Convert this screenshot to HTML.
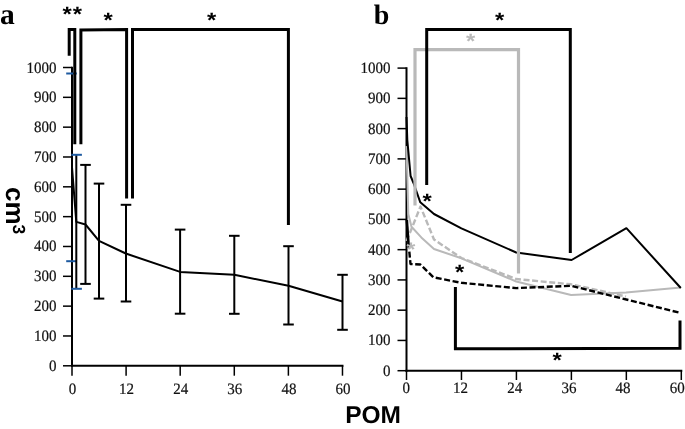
<!DOCTYPE html>
<html><head><meta charset="utf-8"><style>
html,body{margin:0;padding:0;background:#fff;}
svg{display:block;will-change:transform;}
text{text-rendering:geometricPrecision;}
</style></head><body>
<svg width="685" height="429" viewBox="0 0 685 429">
<rect width="685" height="429" fill="#fff"/>
<g stroke="#000" stroke-width="2.0" fill="none">
<line x1="72.0" y1="66.75" x2="72.0" y2="366.8"/>
<line x1="71.0" y1="365.8" x2="343.48" y2="365.8"/>
</g>
<g stroke="#000" stroke-width="1.5">
<line x1="63" y1="365.80" x2="72.0" y2="365.80"/>
<line x1="63" y1="335.97" x2="72.0" y2="335.97"/>
<line x1="63" y1="306.14" x2="72.0" y2="306.14"/>
<line x1="63" y1="276.31" x2="72.0" y2="276.31"/>
<line x1="63" y1="246.48" x2="72.0" y2="246.48"/>
<line x1="63" y1="216.65" x2="72.0" y2="216.65"/>
<line x1="63" y1="186.82" x2="72.0" y2="186.82"/>
<line x1="63" y1="156.99" x2="72.0" y2="156.99"/>
<line x1="63" y1="127.16" x2="72.0" y2="127.16"/>
<line x1="63" y1="97.33" x2="72.0" y2="97.33"/>
<line x1="63" y1="67.50" x2="72.0" y2="67.50"/>
<line x1="72.00" y1="365.8" x2="72.00" y2="375.7"/>
<line x1="126.10" y1="365.8" x2="126.10" y2="375.7"/>
<line x1="180.19" y1="365.8" x2="180.19" y2="375.7"/>
<line x1="234.29" y1="365.8" x2="234.29" y2="375.7"/>
<line x1="288.38" y1="365.8" x2="288.38" y2="375.7"/>
<line x1="342.48" y1="365.8" x2="342.48" y2="375.7"/>
</g>
<g style="font-family:'Liberation Serif',serif;font-size:15px" fill="#111" stroke="#111" stroke-width="0.2" text-anchor="end">
<text transform="translate(56.60,370.80) scale(1,1.06)">0</text>
<text transform="translate(56.60,340.97) scale(1,1.06)">100</text>
<text transform="translate(56.60,311.14) scale(1,1.06)">200</text>
<text transform="translate(56.60,281.31) scale(1,1.06)">300</text>
<text transform="translate(56.60,251.48) scale(1,1.06)">400</text>
<text transform="translate(56.60,221.65) scale(1,1.06)">500</text>
<text transform="translate(56.60,191.82) scale(1,1.06)">600</text>
<text transform="translate(56.60,161.99) scale(1,1.06)">700</text>
<text transform="translate(56.60,132.16) scale(1,1.06)">800</text>
<text transform="translate(56.60,102.33) scale(1,1.06)">900</text>
<text transform="translate(56.60,72.50) scale(1,1.06)">1000</text>
</g>
<g style="font-family:'Liberation Serif',serif;font-size:15px" fill="#111" stroke="#111" stroke-width="0.2" text-anchor="middle">
<text transform="translate(72.50,393.60) scale(1,1.06)">0</text>
<text transform="translate(126.60,393.60) scale(1,1.06)">12</text>
<text transform="translate(180.69,393.60) scale(1,1.06)">24</text>
<text transform="translate(234.79,393.60) scale(1,1.06)">36</text>
<text transform="translate(288.88,393.60) scale(1,1.06)">48</text>
<text transform="translate(342.98,393.60) scale(1,1.06)">60</text>
</g>
<g stroke="#000" stroke-width="2.0" fill="none">
<line x1="406.5" y1="67.35000000000002" x2="406.5" y2="371.7"/>
<line x1="405.5" y1="370.7" x2="682.3" y2="370.7"/>
</g>
<g stroke="#000" stroke-width="1.5">
<line x1="397.5" y1="370.70" x2="406.5" y2="370.70"/>
<line x1="397.5" y1="340.44" x2="406.5" y2="340.44"/>
<line x1="397.5" y1="310.18" x2="406.5" y2="310.18"/>
<line x1="397.5" y1="279.92" x2="406.5" y2="279.92"/>
<line x1="397.5" y1="249.66" x2="406.5" y2="249.66"/>
<line x1="397.5" y1="219.40" x2="406.5" y2="219.40"/>
<line x1="397.5" y1="189.14" x2="406.5" y2="189.14"/>
<line x1="397.5" y1="158.88" x2="406.5" y2="158.88"/>
<line x1="397.5" y1="128.62" x2="406.5" y2="128.62"/>
<line x1="397.5" y1="98.36" x2="406.5" y2="98.36"/>
<line x1="397.5" y1="68.10" x2="406.5" y2="68.10"/>
<line x1="406.50" y1="370.7" x2="406.50" y2="380"/>
<line x1="461.46" y1="370.7" x2="461.46" y2="380"/>
<line x1="516.42" y1="370.7" x2="516.42" y2="380"/>
<line x1="571.38" y1="370.7" x2="571.38" y2="380"/>
<line x1="626.34" y1="370.7" x2="626.34" y2="380"/>
<line x1="681.30" y1="370.7" x2="681.30" y2="380"/>
</g>
<g style="font-family:'Liberation Serif',serif;font-size:15px" fill="#111" stroke="#111" stroke-width="0.2" text-anchor="end">
<text transform="translate(390.40,375.70) scale(1,1.06)">0</text>
<text transform="translate(390.40,345.44) scale(1,1.06)">100</text>
<text transform="translate(390.40,315.18) scale(1,1.06)">200</text>
<text transform="translate(390.40,284.92) scale(1,1.06)">300</text>
<text transform="translate(390.40,254.66) scale(1,1.06)">400</text>
<text transform="translate(390.40,224.40) scale(1,1.06)">500</text>
<text transform="translate(390.40,194.14) scale(1,1.06)">600</text>
<text transform="translate(390.40,163.88) scale(1,1.06)">700</text>
<text transform="translate(390.40,133.62) scale(1,1.06)">800</text>
<text transform="translate(390.40,103.36) scale(1,1.06)">900</text>
<text transform="translate(390.40,73.10) scale(1,1.06)">1000</text>
</g>
<g style="font-family:'Liberation Serif',serif;font-size:15px" fill="#111" stroke="#111" stroke-width="0.2" text-anchor="middle">
<text transform="translate(406.35,393.40) scale(1,1.06)">0</text>
<text transform="translate(460.53,393.40) scale(1,1.06)">12</text>
<text transform="translate(514.71,393.40) scale(1,1.06)">24</text>
<text transform="translate(568.89,393.40) scale(1,1.06)">36</text>
<text transform="translate(623.07,393.40) scale(1,1.06)">48</text>
<text transform="translate(677.25,393.40) scale(1,1.06)">60</text>
</g>
<g stroke-width="2" fill="none">
<line x1="72.0" y1="73.5" x2="72.0" y2="261.2" stroke="#000"/>
<line x1="66.2" y1="73.5" x2="76.8" y2="73.5" stroke="#1e5aa0"/>
<line x1="66.2" y1="261.2" x2="76.8" y2="261.2" stroke="#1e5aa0"/>
<line x1="76.3" y1="154.8" x2="76.3" y2="288.8" stroke="#000"/>
<line x1="71.3" y1="154.8" x2="81.89999999999999" y2="154.8" stroke="#1e5aa0"/>
<line x1="71.3" y1="288.8" x2="81.89999999999999" y2="288.8" stroke="#1e5aa0"/>
<line x1="85.5" y1="164.9" x2="85.5" y2="283.9" stroke="#000"/>
<line x1="80.2" y1="164.9" x2="90.8" y2="164.9" stroke="#000"/>
<line x1="80.2" y1="283.9" x2="90.8" y2="283.9" stroke="#000"/>
<line x1="99.0" y1="183.6" x2="99.0" y2="298.6" stroke="#000"/>
<line x1="93.7" y1="183.6" x2="104.3" y2="183.6" stroke="#000"/>
<line x1="93.7" y1="298.6" x2="104.3" y2="298.6" stroke="#000"/>
<line x1="126.0" y1="204.8" x2="126.0" y2="301.5" stroke="#000"/>
<line x1="120.7" y1="204.8" x2="131.3" y2="204.8" stroke="#000"/>
<line x1="120.7" y1="301.5" x2="131.3" y2="301.5" stroke="#000"/>
<line x1="180.1" y1="229.6" x2="180.1" y2="313.7" stroke="#000"/>
<line x1="174.79999999999998" y1="229.6" x2="185.4" y2="229.6" stroke="#000"/>
<line x1="174.79999999999998" y1="313.7" x2="185.4" y2="313.7" stroke="#000"/>
<line x1="234.3" y1="235.8" x2="234.3" y2="313.8" stroke="#000"/>
<line x1="229.0" y1="235.8" x2="239.60000000000002" y2="235.8" stroke="#000"/>
<line x1="229.0" y1="313.8" x2="239.60000000000002" y2="313.8" stroke="#000"/>
<line x1="288.5" y1="246.2" x2="288.5" y2="324.5" stroke="#000"/>
<line x1="283.2" y1="246.2" x2="293.8" y2="246.2" stroke="#000"/>
<line x1="283.2" y1="324.5" x2="293.8" y2="324.5" stroke="#000"/>
<line x1="342.5" y1="274.8" x2="342.5" y2="329.8" stroke="#000"/>
<line x1="337.2" y1="274.8" x2="347.8" y2="274.8" stroke="#000"/>
<line x1="337.2" y1="329.8" x2="347.8" y2="329.8" stroke="#000"/>
</g>
<polyline fill="none" stroke="#000" stroke-width="2" stroke-linejoin="round" points="72,167.3 76.3,221.9 85.5,224.5 99,240.9 125.8,253.5 180.1,271.9 234.3,274.8 288.5,285.8 342.5,301.5"/>
<g stroke="#000" stroke-width="3" fill="none" stroke-linejoin="miter" stroke-linecap="butt">
<polyline points="69.2,55.8 69.2,29.4 74.8,29.4 74.8,144.3"/>
<polyline points="80.9,144.3 80.9,30.0 126.6,29.6 126.6,198.6"/>
<polyline points="132.5,198.6 132.5,29.6 288.4,29.4 288.4,225"/>
</g>
<polyline fill="none" stroke="#b9b9b9" stroke-width="2" stroke-linejoin="round" points="406.5,146.0 408.3,214.0 411.5,226.8 421.3,237.4 434.0,249.0 461.4,258.3 516.2,281.5 571.1,295.0 626.0,292.5 680.8,287.4"/>
<polyline fill="none" stroke="#b9b9b9" stroke-width="2.4" stroke-linejoin="round" stroke-dasharray="6 2.6" points="406.5,241.0 411.1,230.0 420.5,206.5 434.0,239.5 461.4,258.0 516.2,279.0 571.1,284.3 626.0,296.5"/>
<polyline fill="none" stroke="#000" stroke-width="2.4" stroke-linejoin="round" stroke-dasharray="6 2.6" points="408.5,243.0 410.5,264.0 420.4,264.5 433.4,277.3 461.4,282.8 516.2,288.1 571.1,285.8 680.8,313.0"/>
<polyline fill="none" stroke="#000" stroke-width="2.6" stroke-linejoin="round" points="406.8,220.0 408.5,243.5"/>
<polyline fill="none" stroke="#000" stroke-width="2" stroke-linejoin="round" points="406.5,117.0 407.3,140.0 410.6,176.0 413.5,183.0 420.3,202.3 434.0,214.0 461.4,228.4 516.2,252.5 571.6,260.0 626.4,228.2 680.8,288.0"/>
<polyline stroke="#b9b9b9" stroke-width="3.2" fill="none" points="415,205.5 415,49.7 518.5,49.7 518.5,273.5"/>
<g stroke="#000" stroke-width="3" fill="none">
<polyline points="426.7,185 426.7,29.6 570.3,29.4 570.3,253.0"/>
<polyline points="455.4,287.1 455.4,348.8 680,348.3 680,320.5"/>
</g>
<text transform="translate(67.10,21.13) scale(1.08,0.94)" text-anchor="middle" style="font-family:'Liberation Sans',sans-serif;font-weight:bold;font-size:22px" fill="#000">*</text>
<text transform="translate(77.40,21.13) scale(1.08,0.94)" text-anchor="middle" style="font-family:'Liberation Sans',sans-serif;font-weight:bold;font-size:22px" fill="#000">*</text>
<text transform="translate(108.05,26.73) scale(1.08,0.94)" text-anchor="middle" style="font-family:'Liberation Sans',sans-serif;font-weight:bold;font-size:22px" fill="#000">*</text>
<text transform="translate(211.70,27.33) scale(1.08,0.94)" text-anchor="middle" style="font-family:'Liberation Sans',sans-serif;font-weight:bold;font-size:22px" fill="#000">*</text>
<text transform="translate(499.60,27.33) scale(1.08,0.94)" text-anchor="middle" style="font-family:'Liberation Sans',sans-serif;font-weight:bold;font-size:22px" fill="#000">*</text>
<text transform="translate(427.20,208.23) scale(1.08,0.94)" text-anchor="middle" style="font-family:'Liberation Sans',sans-serif;font-weight:bold;font-size:22px" fill="#000">*</text>
<text transform="translate(459.50,279.03) scale(1.08,0.94)" text-anchor="middle" style="font-family:'Liberation Sans',sans-serif;font-weight:bold;font-size:22px" fill="#000">*</text>
<text transform="translate(557.15,366.63) scale(1.08,0.94)" text-anchor="middle" style="font-family:'Liberation Sans',sans-serif;font-weight:bold;font-size:22px" fill="#000">*</text>
<text transform="translate(470.70,47.73) scale(1.08,0.94)" text-anchor="middle" style="font-family:'Liberation Sans',sans-serif;font-weight:bold;font-size:22px" fill="#b9b9b9">*</text>
<text transform="translate(410.90,256.18) scale(1.08,0.94)" text-anchor="middle" style="font-family:'Liberation Sans',sans-serif;font-weight:bold;font-size:21px" fill="#b9b9b9">*</text>
<text x="-0.05" y="24.1" style="font-family:'Liberation Serif',serif;font-weight:bold;font-size:29.5px" fill="#000">a</text>
<text x="373.64" y="24.3" style="font-family:'Liberation Serif',serif;font-weight:bold;font-size:28px" fill="#000">b</text>
<text x="345.13" y="423.3" style="font-family:'Liberation Sans',sans-serif;font-weight:bold;font-size:24.5px" fill="#000">POM</text>
<text transform="translate(6.0,187) rotate(90)" style="font-family:'Liberation Sans',sans-serif;font-weight:bold;font-size:26px" fill="#000">cm<tspan dx="-0.2" dy="-6.9" style="font-size:17.5px">3</tspan></text>
</svg>
</body></html>
